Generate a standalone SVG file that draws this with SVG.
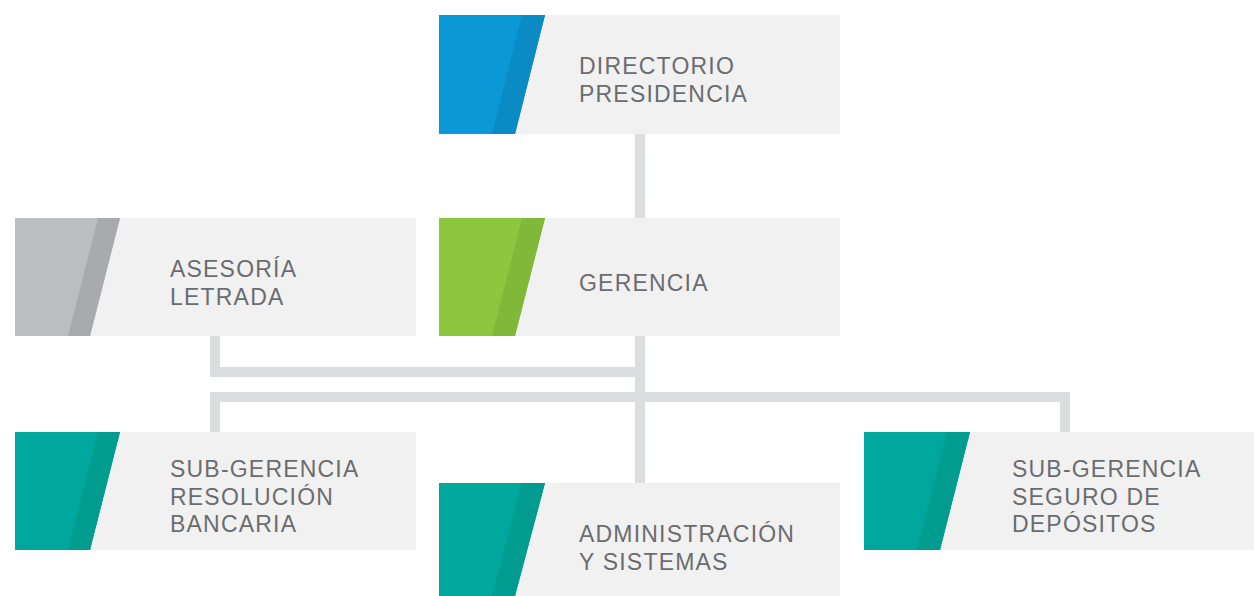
<svg xmlns="http://www.w3.org/2000/svg" width="1254" height="596" viewBox="0 0 1254 596">
<style>
.box{fill:#f1f1f1}
.lbl{font-family:"Liberation Sans",Arial,sans-serif;font-size:23px;fill:#6b6c6f;letter-spacing:1.2px}
.conn{fill:#dcdddf}
.blue1{fill:#0b98d6}.blue2{fill:#0a8bc4}
.gray1{fill:#bcbdc0}.gray2{fill:#a9aaad}
.green1{fill:#8dc63f}.green2{fill:#80b83a}
.teal1{fill:#00a79d}.teal2{fill:#009c90}
</style>
<rect width="1254" height="596" fill="#ffffff"/>
<g id="connectors">
<rect class="conn" x="635" y="133" width="10" height="86"/>
<rect class="conn" x="635" y="335" width="10" height="149"/>
<rect class="conn" x="210" y="335" width="10" height="42"/>
<rect class="conn" x="210" y="367" width="435" height="10"/>
<rect class="conn" x="210" y="392" width="860" height="10"/>
<rect class="conn" x="210" y="392" width="10" height="41"/>
<rect class="conn" x="1060" y="392" width="10" height="41"/>
</g>
<g id="directorio">
<rect class="box" x="439" y="15" width="401" height="119"/>
<polygon class="blue1" points="439,15 545,15 515,134 439,134"/>
<polygon class="blue2" points="522,15 545,15 515,134 492,134"/>
<text class="lbl" x="579" y="74">DIRECTORIO</text>
<text class="lbl" x="579" y="101.5">PRESIDENCIA</text>
</g>
<g id="asesoria">
<rect class="box" x="15" y="218" width="401" height="118"/>
<polygon class="gray1" points="15,218 120,218 90,336 15,336"/>
<polygon class="gray2" points="98,218 120,218 90,336 68,336"/>
<text class="lbl" x="170" y="277">ASESORÍA</text>
<text class="lbl" x="170" y="304.5">LETRADA</text>
</g>
<g id="gerencia">
<rect class="box" x="439" y="218" width="401" height="118"/>
<polygon class="green1" points="439,218 545,218 515,336 439,336"/>
<polygon class="green2" points="522,218 545,218 515,336 492,336"/>
<text class="lbl" x="579" y="291">GERENCIA</text>
</g>
<g id="subgerencia-resolucion">
<rect class="box" x="15" y="432" width="401" height="118"/>
<polygon class="teal1" points="15,432 120,432 90,550 15,550"/>
<polygon class="teal2" points="98,432 120,432 90,550 68,550"/>
<text class="lbl" x="170" y="477">SUB-GERENCIA</text>
<text class="lbl" x="170" y="504.5">RESOLUCIÓN</text>
<text class="lbl" x="170" y="532">BANCARIA</text>
</g>
<g id="administracion">
<rect class="box" x="439" y="483" width="401" height="113"/>
<polygon class="teal1" points="439,483 545,483 515,596 439,596"/>
<polygon class="teal2" points="522,483 545,483 515,596 492,596"/>
<text class="lbl" x="579" y="542">ADMINISTRACIÓN</text>
<text class="lbl" x="579" y="570">Y SISTEMAS</text>
</g>
<g id="subgerencia-seguro">
<rect class="box" x="864" y="432" width="390" height="118"/>
<polygon class="teal1" points="864,432 970,432 940,550 864,550"/>
<polygon class="teal2" points="947,432 970,432 940,550 917,550"/>
<text class="lbl" x="1012" y="477">SUB-GERENCIA</text>
<text class="lbl" x="1012" y="504.5">SEGURO DE</text>
<text class="lbl" x="1012" y="532">DEPÓSITOS</text>
</g>
</svg>
